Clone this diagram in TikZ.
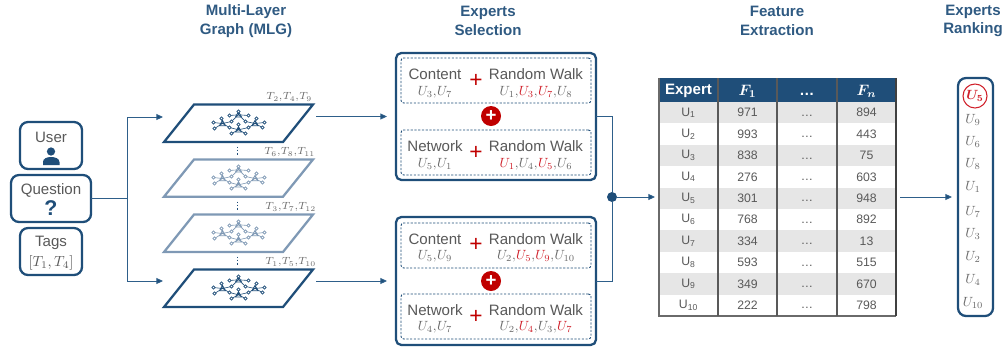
\documentclass[tikz,border=0pt]{standalone}
\usepackage{fix-cm}
\usepackage{amsmath}
\usepackage{fontspec}
\setmainfont{Liberation Sans}
\usetikzlibrary{arrows.meta}
\definecolor{dblue}{HTML}{1F4E79}
\definecolor{fblue}{HTML}{7F99B5}
\definecolor{lblue}{HTML}{2E5F8A}
\definecolor{gtext}{HTML}{595959}
\definecolor{mgray}{HTML}{6A6A6A}
\definecolor{rowg}{HTML}{E6E6E6}
\definecolor{redc}{HTML}{C00000}
\definecolor{redm}{HTML}{D0202A}
\definecolor{ttl}{HTML}{2F5A82}
\newcommand{\fs}[1]{\fontsize{#1}{#1}\selectfont}
\newcommand{\gm}[1]{\textcolor{mgray}{$\thinmuskip=0.5mu #1$}}
\newcommand{\rU}[1]{\textcolor{redm}{U_{#1}}}
\tikzset{
  px/.style={inner sep=0pt,outer sep=0pt},
  ubox/.style={px,draw=dblue,line width=1.7pt,rounded corners=6pt,fill=white},
  selbox/.style={px,draw=dblue,line width=1.7pt,rounded corners=4pt,fill=white},
  dbox/.style={px,draw=dblue,line width=0.7pt,dash pattern=on 1.6pt off 1.2pt,rounded corners=2pt},
  lbl/.style={px,text=gtext,font=\fs{11.3}},
  ttlnode/.style={px,text=ttl,font=\fs{11.3}\bfseries,align=center},
  conn/.style={draw=lblue,line width=0.7pt},
  arr/.style={conn,-{Triangle[length=5pt,width=4.5pt,fill=dblue]}},
  cell/.style={px,text=gtext,font=\fs{9.2}},
  head/.style={px,text=white,font=\fs{11.3}\bfseries},
  tlab/.style={px,font=\fs{7.8}},
  sub/.style={px,font=\fs{10}},
  bigplus/.style={px,text=redc,font=\fs{17}},
  plane/.style={line width=1.7pt,line join=miter,fill=white},
  pics/net/.style={code={
    \tikzset{every path/.style={draw=#1,line width=0.45pt}}
    \foreach \cx/\cy in {-16/1,0/-7.7,0/7.3,16.5/1}{
      \draw[line width=0.65pt,fill=white] (\cx-3,\cy+2.2) -- (\cx+3,\cy+2.2) -- (\cx,\cy-3) -- cycle;
    }
    \draw (-16,1)--(-25,0) (-16,1)--(-24,6) (-16,1)--(-17,-4) (-16,1)--(-7,-1) (-16,1)--(-9,5);
    \draw (0,-7.7)--(-9,-7) (0,-7.7)--(10,-7) (0,-7.7)--(0,-11) (0,-7.7)--(-7,-1) (0,-7.7)--(7,-1);
    \draw (0,7.3)--(-9,5) (0,7.3)--(10,5) (0,7.3)--(0,2) (0,7.3)--(-7,11) (0,7.3)--(7,11);
    \draw (16.5,1)--(18,-4) (16.5,1)--(26,0) (16.5,1)--(24,5) (16.5,1)--(7,-1) (16.5,1)--(10,5);
    \foreach \qx/\qy in {-25/0,-24/6,-17/-4,-9/-7,10/-7,0/-11,18/-4,26/0,24/5,-7/-1,7/-1,-9/5,10/5,-7/11,7/11,0/2}{
      \draw[fill=white,line width=0.55pt] (\qx,\qy) circle[radius=1.2pt];
    }
  }}
}
\begin{document}
\begin{tikzpicture}[x=0.75pt,y=-0.75pt]
\useasboundingbox (0,0) rectangle (1006,347);
% titles
\node[ttlnode] (t1) at (246,21) {Multi-Layer\\[2.4pt]Graph (MLG)};
\node[ttlnode] (t2) at (488,21) {Experts\\[2.4pt]Selection};
\node[ttlnode] (t3) at (777,21) {Feature\\[2.4pt]Extraction};
\node[ttlnode] (t4) at (973,21) {Experts\\[2.4pt]Ranking};
% input boxes
\node[ubox,minimum width=62*.75pt,minimum height=47*.75pt] (user) at (51,145.5) {};
\node[ubox,minimum width=80*.75pt,minimum height=47*.75pt] (question) at (51,198.5) {};
\node[ubox,minimum width=62*.75pt,minimum height=47*.75pt] (tags) at (51,251.5) {};
\node[lbl] (userl) at (51,137) {User};
\node[lbl] (questionl) at (51,190) {Question};
\node[lbl] (tagsl) at (51,243) {Tags};
\node[px,text=gtext,font=\fs{11}] (tagsm) at (51,263) {$[T_1,T_4]$};
\node[px,text=dblue,font=\fs{16}\bfseries] (qmark) at (51,208) {?};
\fill[dblue] (51,151.5) circle[radius=3.1pt];
\fill[dblue] (43,165) -- (43,162) .. controls (43,158.5) and (47,157) .. (51,157) .. controls (55,157) and (59.5,158.5) .. (59.5,162) -- (59.5,165) -- cycle;
% planes
\draw[plane,draw=dblue] (164,142) -- (194,104.5) -- (313,104.5) -- (283,142) -- cycle;
\draw[plane,draw=fblue] (164,196.7) -- (194,159.5) -- (313,159.5) -- (283,196.7) -- cycle;
\draw[plane,draw=fblue] (164,252) -- (194,214.5) -- (313,214.5) -- (283,252) -- cycle;
\draw[plane,draw=dblue] (164,307) -- (194,269.5) -- (313,269.5) -- (283,307) -- cycle;
\pic at (238.5,122.5) {net=dblue};
\pic at (238.5,177.5) {net=fblue};
\pic at (238.5,232.5) {net=fblue};
\pic at (238.5,287.5) {net=dblue};
\foreach \yy in {150.5,205.5,260.5}
  \draw[dblue,line width=0.9pt,dash pattern=on 1.2pt off 1.2pt] (237.5,\yy-4) -- (237.5,\yy+4);
\node[tlab,anchor=east] (lab1) at (312,97) {\gm{T_2,T_4,T_9}};
\node[tlab,anchor=east] (lab2) at (315,152) {\gm{T_6,T_8,T_{11}}};
\node[tlab,anchor=east] (lab3) at (316,207) {\gm{T_3,T_7,T_{12}}};
\node[tlab,anchor=east] (lab4) at (316,262) {\gm{T_1,T_5,T_{10}}};
\coordinate (pl1) at (316,116.5);
\coordinate (pl4) at (316,281);
\coordinate (arrA) at (163,117);
\coordinate (arrB) at (163,281);
\coordinate (busA) at (127,117);
\coordinate (busB) at (127,281);
\coordinate (busM) at (127,198.5);
\coordinate (selinA) at (387,116.5);
\coordinate (selinB) at (387,281);
\draw[conn] (question.east) -- (busM);
\draw[arr] (busA) -- (arrA);
\draw[arr] (busB) -- (arrB);
\draw[conn] (busA) -- (busB);
% selection boxes
\node[selbox,minimum width=200*.75pt,minimum height=127*.75pt] (sel1) at (496,116.5) {};
\node[selbox,minimum width=200*.75pt,minimum height=128*.75pt] (sel2) at (496,281) {};
\node[dbox,minimum width=190*.75pt,minimum height=45*.75pt] (d1) at (496,80.5) {};
\node[dbox,minimum width=190*.75pt,minimum height=45*.75pt] (d2) at (496,152.5) {};
\node[dbox,minimum width=190*.75pt,minimum height=45*.75pt] (d3) at (496,245.5) {};
\node[dbox,minimum width=190*.75pt,minimum height=45*.75pt] (d4) at (496,316.5) {};
\draw[arr] (pl1) -- (selinA);
\draw[arr] (pl4) -- (selinB);
% content rows
\node[lbl] (c1) at (435,74) {Content};
\node[lbl] (r1) at (536,74) {Random Walk};
\node[bigplus] (pl1a) at (476,81) {+};
\node[sub] (su1) at (435,92) {\gm{U_3,U_7}};
\node[sub] (su2) at (536,92) {\gm{U_1,\rU{3},\rU{7},U_8}};
\node[lbl] (c2) at (435,146) {Network};
\node[lbl] (r2) at (536,146) {Random Walk};
\node[bigplus] (pl2a) at (476,153) {+};
\node[sub] (su3) at (435,164) {\gm{U_5,U_1}};
\node[sub] (su4) at (536,164) {\gm{\rU{1},U_4,\rU{5},U_6}};
\node[lbl] (c3) at (435,239) {Content};
\node[lbl] (r3) at (536,239) {Random Walk};
\node[bigplus] (pl3a) at (476,245) {+};
\node[sub] (su5) at (435,256) {\gm{U_5,U_9}};
\node[sub] (su6) at (536,256) {\gm{U_2,\rU{5},\rU{9},U_{10}}};
\node[lbl] (c4) at (435,310) {Network};
\node[lbl] (r4) at (536,310) {Random Walk};
\node[bigplus] (pl4a) at (476,317) {+};
\node[sub] (su7) at (435,327) {\gm{U_4,U_7}};
\node[sub] (su8) at (536,327) {\gm{U_2,\rU{4},U_3,\rU{7}}};
\node[px,circle,fill=redc,minimum size=20*.75pt,text=white,font=\fs{14}\bfseries] (plusA) at (491,116) {+};
\node[px,circle,fill=redc,minimum size=20*.75pt,text=white,font=\fs{14}\bfseries] (plusB) at (491,281) {+};
% merge
\node[px,circle,fill=dblue,minimum size=10*.75pt] (merge) at (612,197) {};
\coordinate (mA) at (612,116.5);
\coordinate (mB) at (612,281);
\coordinate (tin) at (655,197);
\draw[conn] (sel1.east) -- (mA) -- (merge);
\draw[conn] (sel2.east) -- (mB) -- (merge);
\draw[arr] (merge) -- (tin);
% table
\fill[dblue] (659,78) rectangle (896,102);
\foreach \r in {0,2,4,6,8}
  \fill[rowg] (659,102+21.4*\r) rectangle (896,102+21.4*\r+21.4);
\draw[mgray,line width=1pt] (659,78) -- (659,316) -- (896,316);
\foreach \xx in {718,777,837}
  \draw[gtext,line width=1pt] (\xx,78) -- (\xx,316);
\draw[black!75,line width=1pt] (896,78) -- (896,316);
\node[head] (h1) at (688.5,90.5) {Expert};
\node[head] (h2) at (747.5,91) {$\boldsymbol{F_1}$};
\node[head] (h3) at (807,94) {…};
\node[head] (h4) at (866.5,91) {$\boldsymbol{F_n}$};
\foreach \i/\aa/\bb in {1/971/894,2/993/443,3/838/75,4/276/603,5/301/948,6/768/892,7/334/13,8/593/515,9/349/670,10/222/798}{
  \pgfmathsetmacro{\yy}{102+21.4*(\i-0.5)}
  \node[cell] (a\i) at (688.5,\yy) {U\textsubscript{\i}};
  \node[cell] (b\i) at (747.5,\yy) {\aa};
  \node[cell] (c\i) at (807,\yy+3) {…};
  \node[cell] (d\i) at (866.5,\yy) {\bb};
}
% ranking
\coordinate (tout) at (900,197);
\coordinate (rankin) at (952,197);
\node[ubox,minimum width=35*.75pt,minimum height=238*.75pt] (rank) at (975.5,197) {};
\draw[arr] (tout) -- (rankin);
\node[px,circle,draw=redm,line width=0.8pt,minimum size=24*.75pt] (top) at (975,96) {};
\node[sub,text=redm] (ru) at (975,96) {$\boldsymbol{U_5}$};
\foreach \n/\yy in {9/120,6/142,8/164,1/187,7/212,3/234,2/257,4/280,10/303}
  \node[sub] (rk\n) at (973,\yy) {\gm{U_{\n}}};
\end{tikzpicture}
\end{document}
